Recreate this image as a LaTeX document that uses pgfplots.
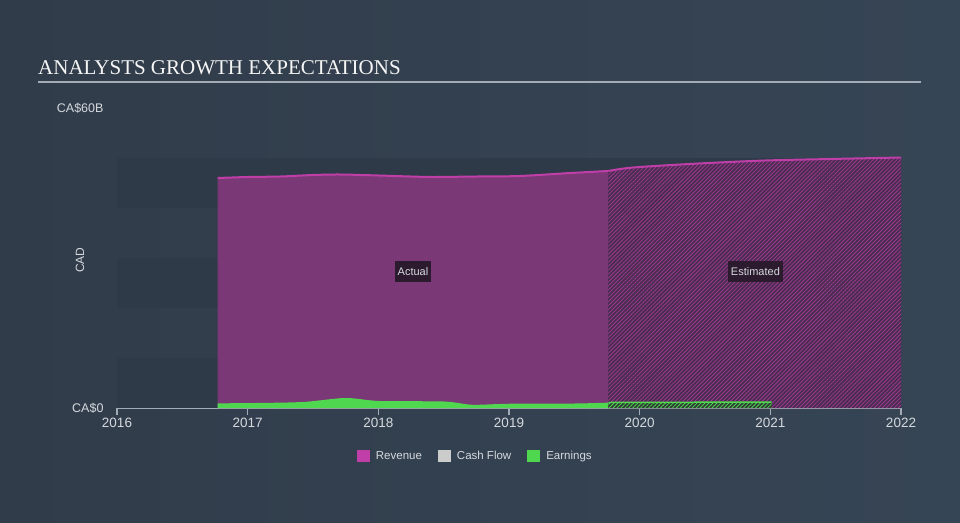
\documentclass[border=0pt]{standalone}
\usepackage{pgfplots}
\pgfplotsset{compat=1.18}
\usepackage{pgfplotstable}
\usepackage{fontspec}
\setmainfont{Liberation Sans}
\newfontfamily\titlefont{Liberation Serif}
\usetikzlibrary{patterns.meta}

\definecolor{bgleft}{HTML}{313C4A}
\definecolor{bgright}{HTML}{364555}
\definecolor{band}{HTML}{2E3A47}
\definecolor{revfill}{HTML}{7B3876}
\definecolor{revline}{HTML}{C03EA8}
\definecolor{revhatchbg}{HTML}{4A2C50}
\definecolor{revhatch}{HTML}{9C3A8F}
\definecolor{earn}{HTML}{4FD84F}
\definecolor{earnhatchbg}{HTML}{2F3D35}
\definecolor{cash}{HTML}{CCCCCC}
\definecolor{axisgray}{HTML}{A3ABB6}
\definecolor{txt}{HTML}{D5D9DE}
\definecolor{tagbg}{HTML}{2C1B2E}

% revenue, CA$ billions
\pgfplotstableread{
year rev
2016.77 46.0
2017.00 46.2
2017.25 46.3
2017.50 46.6
2017.71 46.7
2018.00 46.5
2018.25 46.3
2018.42 46.2
2018.75 46.3
2019.08 46.4
2019.47 47.0
2019.76 47.4
}\revactual

\pgfplotstableread{
year rev
2019.76 47.4
2019.95 48.1
2020.45 48.9
2020.96 49.5
2021.46 49.8
2022.00 50.1
}\revest

% earnings, CA$ billions
\pgfplotstableread{
year earn
2016.77 0.93
2017.20 1.05
2017.45 1.25
2017.75 2.00
2018.01 1.40
2018.50 1.30
2018.72 0.65
2019.00 0.85
2019.50 0.90
2019.76 1.07
}\earnactual

\pgfplotstableread{
year earn
2019.76 1.10
2020.40 1.15
2021.01 1.20
}\earnest

\begin{document}
\begin{tikzpicture}
\useasboundingbox (0pt,-522pt) rectangle (960pt,0pt);
\shade[left color=bgleft, right color=bgright] (0pt,-522pt) rectangle (960pt,0pt);

\node[anchor=base west, inner sep=0pt, text=white!92!gray] at (38pt,-74pt)
  {\titlefont\fontsize{21}{25}\selectfont ANALYSTS GROWTH EXPECTATIONS};
\draw[axisgray, line width=1.5pt] (38pt,-82pt) -- (921pt,-82pt);

\node[rotate=90, text=txt, font=\fontsize{12}{14}\selectfont] at (80pt,-260pt) {CAD};

\begin{axis}[
  at={(117pt,-408pt)}, anchor=south west,
  scale only axis, width=784pt, height=300pt,
  xmin=2016, xmax=2022, ymin=0, ymax=60,
  separate axis lines,
  axis x line*=bottom, axis y line*=left,
  y axis line style={draw=none},
  x axis line style={axisgray, line width=1.5pt, -},
  tick align=outside, major tick length=7pt,
  xtick={2016,2017,2018,2019,2020,2021,2022},
  xticklabels={2016,2017,2018,2019,2020,2021,2022},
  ytick={0,60}, yticklabels={CA\$0,CA\$60B},
  xtick style={axisgray, line width=1.2pt},
  ytick style={draw=none},
  x tick label style={font=\fontsize{13.5}{16}\selectfont, text=txt},
  y tick label style={font=\fontsize{12.5}{14}\selectfont, text=txt, xshift=-3pt},
  legend style={at={(0.457,-0.16)}, anchor=center, draw=none, fill=none,
    text=txt, font=\fontsize{11.5}{13}\selectfont,
    /tikz/every even column/.append style={column sep=14pt},
    /tikz/every odd column/.append style={column sep=4pt}},
  legend columns=-1,
  legend image code/.code={\fill[#1] (0pt,-6pt) rectangle (13pt,6pt);},
]
\addlegendimage{fill=revline, draw=none}
\addlegendentry{Revenue}
\addlegendimage{fill=cash, draw=none}
\addlegendentry{Cash Flow}
\addlegendimage{fill=earn, draw=none}
\addlegendentry{Earnings}

% background bands
\fill[band] (axis cs:2016,0) rectangle (axis cs:2022,10);
\fill[band] (axis cs:2016,20) rectangle (axis cs:2022,30);
\fill[band] (axis cs:2016,40) rectangle (axis cs:2022,50);

% revenue
\addplot[fill=revfill, draw=none, smooth, forget plot]
  table[x=year, y=rev] {\revactual} \closedcycle;
\addplot[draw=none, preaction={fill=revhatchbg},
  pattern={Lines[angle=45, distance=2.8pt, line width=0.8pt]}, pattern color=revhatch,
  smooth, forget plot]
  table[x=year, y=rev] {\revest} \closedcycle;
\addplot[revline, line width=2pt, smooth, forget plot] table[x=year, y=rev] {\revactual};
\addplot[revline, line width=2pt, smooth, forget plot] table[x=year, y=rev] {\revest};

% earnings
\addplot[fill=earn, draw=none, smooth, forget plot]
  table[x=year, y=earn] {\earnactual} \closedcycle;
\addplot[draw=none, preaction={fill=earnhatchbg},
  pattern={Lines[angle=45, distance=2.8pt, line width=0.8pt]}, pattern color=earn,
  forget plot]
  table[x=year, y=earn] {\earnest} \closedcycle;
\addplot[earn, line width=1.5pt, forget plot] table[x=year, y=earn] {\earnest};

% tags
\node[fill=tagbg, text=txt, font=\fontsize{11}{13}\selectfont,
  inner xsep=3pt, minimum height=21pt] at (axis cs:2018.265,27.3) {Actual};
\node[fill=tagbg, text=txt, font=\fontsize{11}{13}\selectfont,
  inner xsep=3pt, minimum height=21pt] at (axis cs:2020.886,27.3) {Estimated};
\end{axis}
\end{tikzpicture}
\end{document}
